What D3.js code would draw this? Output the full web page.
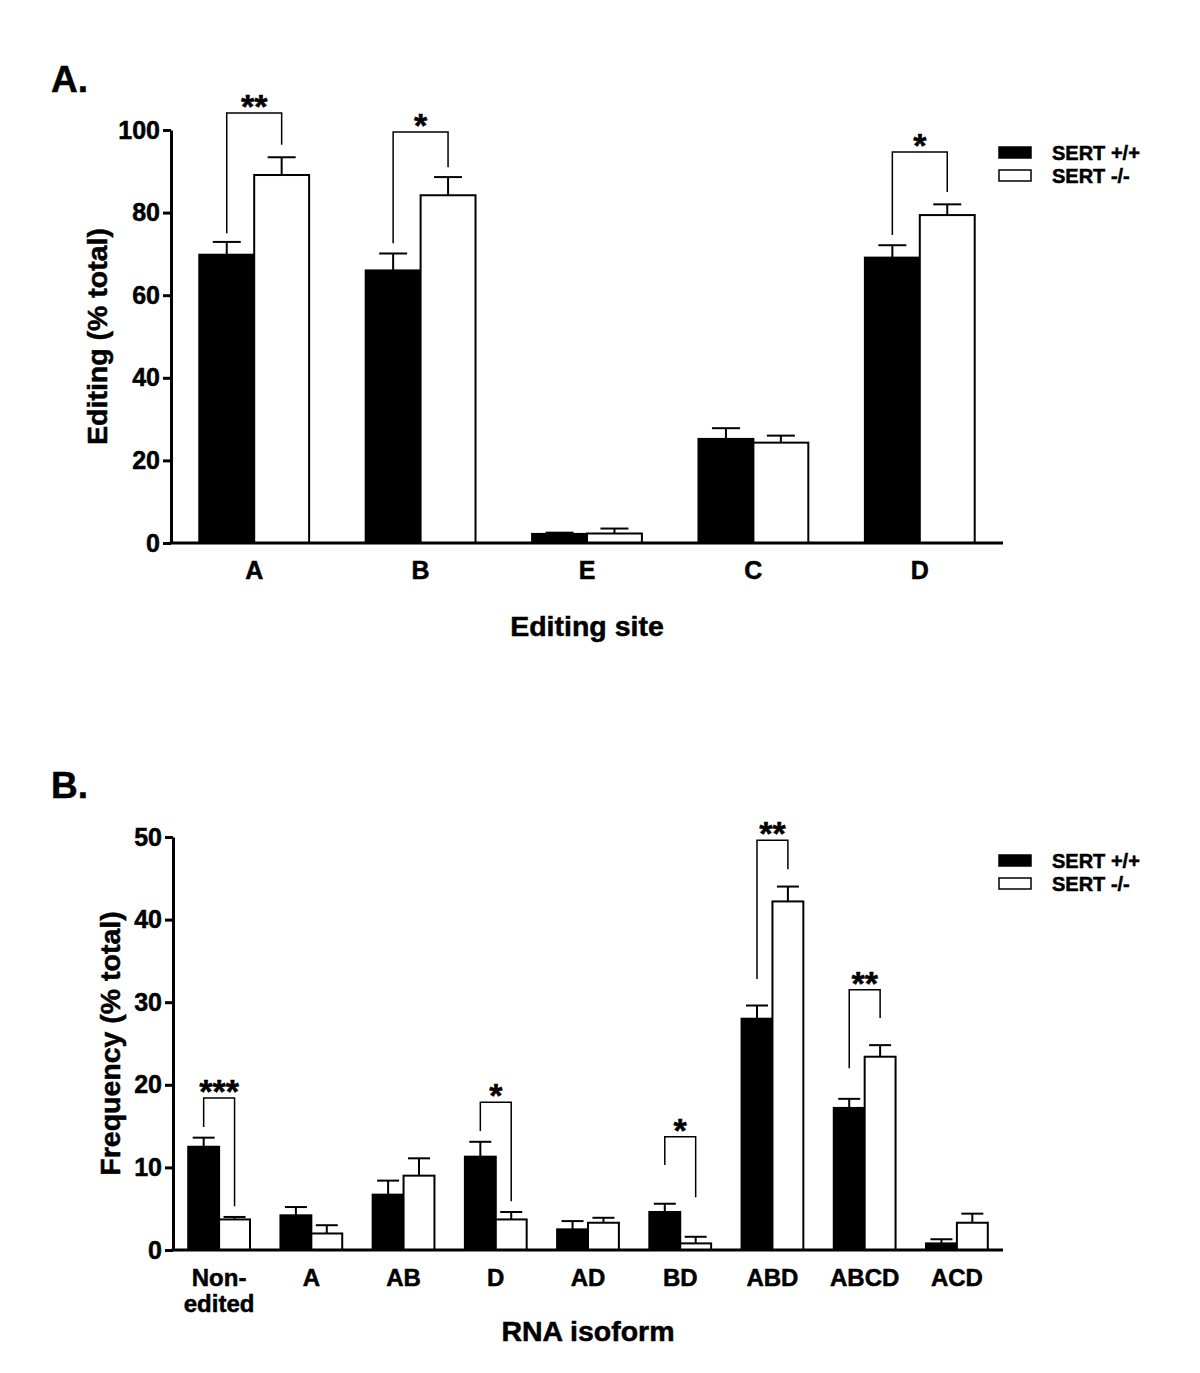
<!DOCTYPE html>
<html>
<head>
<meta charset="utf-8">
<script src="https://cdn.jsdelivr.net/npm/d3@7"></script>
<style>
  body { margin: 0; background: #fff; }
  svg { font-family: "Liberation Sans", Arial, sans-serif; font-weight: bold; }
  svg text { stroke: #000; stroke-width: 0.5px; }
</style>
</head>
<body>
<svg id="chart" width="1200" height="1373"></svg>
<script>
// Panel A data
const sitesA = ["A", "B", "E", "C", "D"];
const wildA = [69.8, 66.0, 2.2, 25.2, 69.1];
const wildErrA = [72.9, 70.1, 2.5, 27.8, 72.1];
const knockA = [89.1, 84.2, 2.3, 24.3, 79.4];
const knockErrA = [93.4, 88.6, 3.5, 26.0, 82.0];
const ticksA = [0, 20, 40, 60, 80, 100];
// [category, bracket top, left leg end, right leg end, label]
const bracketsA = [
  ["A", 104.1, 75.0, 96.4, "**"],
  ["B", 99.5, 72.6, 91.0, "*"],
  ["D", 94.7, 74.6, 85.0, "*"]
];

// Panel B data
const isoformsB = ["Non-\nedited", "A", "AB", "D", "AD", "BD", "ABD", "ABCD", "ACD"];
const wildB = [12.5, 4.2, 6.7, 11.3, 2.5, 4.6, 28.0, 17.2, 0.8];
const wildErrB = [13.6, 5.2, 8.4, 13.1, 3.5, 5.6, 29.6, 18.3, 1.3];
const knockB = [3.7, 2.0, 9.0, 3.7, 3.3, 0.8, 42.2, 23.4, 3.3];
const knockErrB = [4.0, 3.0, 11.1, 4.6, 3.9, 1.6, 44.0, 24.8, 4.4];
const ticksB = [0, 10, 20, 30, 40, 50];
const bracketsB = [
  ["Non-\nedited", 18.4, 14.9, 5.3, "***"],
  ["D", 17.9, 14.4, 5.9, "*"],
  ["BD", 13.7, 10.3, 6.4, "*"],
  ["ABD", 49.6, 32.8, 46.1, "**"],
  ["ABCD", 31.5, 22.0, 28.1, "**"]
];

const legendLabels = ["SERT +/+", "SERT -/-"];

const svg = d3.select("#chart");

function drawPanel(cfg) {
  const g = svg.append("g");

  const xScale = d3.scaleBand()
    .domain(cfg.cats)
    .range([cfg.x0, cfg.x1])
    .paddingInner(cfg.pad)
    .paddingOuter(cfg.pad / 2);
  const yScale = d3.scaleLinear().domain(cfg.yDomain).range([cfg.yBottom, cfg.yTop]);
  const half = xScale.bandwidth() / 2;

  const series = [
    { vals: cfg.wild, errs: cfg.wildErr, fill: "#000", off: 0 },
    { vals: cfg.knock, errs: cfg.knockErr, fill: "#fff", off: half }
  ];

  // error bars first so the bar outline sits on top
  series.forEach((s) => {
    const eb = g.append("g");
    cfg.cats.forEach((c, i) => {
      const cx = xScale(c) + s.off + half / 2;
      eb.append("line")
        .attr("x1", cx).attr("x2", cx)
        .attr("y1", yScale(s.vals[i])).attr("y2", yScale(s.errs[i]))
        .attr("stroke", "#000").attr("stroke-width", 2);
      eb.append("line")
        .attr("x1", cx - cfg.cap / 2).attr("x2", cx + cfg.cap / 2)
        .attr("y1", yScale(s.errs[i])).attr("y2", yScale(s.errs[i]))
        .attr("stroke", "#000").attr("stroke-width", 2);
    });
  });

  series.forEach((s) => {
    g.append("g")
      .selectAll("rect")
      .data(cfg.cats)
      .join("rect")
      .attr("x", (c) => xScale(c) + s.off)
      .attr("width", half)
      .attr("y", (c, i) => yScale(s.vals[i]))
      .attr("height", (c, i) => yScale(0) - yScale(s.vals[i]))
      .attr("fill", s.fill)
      .attr("stroke", "#000")
      .attr("stroke-width", 2);
  });

  // significance brackets
  cfg.brackets.forEach(([c, top, lEnd, rEnd, label]) => {
    const lx = xScale(c) + half / 2;
    const rx = xScale(c) + half + half / 2;
    g.append("path")
      .attr("d", `M${lx},${yScale(lEnd)} V${yScale(top)} H${rx} V${yScale(rEnd)}`)
      .attr("fill", "none")
      .attr("stroke", "#000")
      .attr("stroke-width", 1.5);
    g.append("text")
      .attr("x", (lx + rx) / 2)
      .attr("y", yScale(top) + 5)
      .attr("text-anchor", "middle")
      .style("font-size", "34px")
      .text(label);
  });

  // axes
  const yAxis = d3.axisLeft(yScale).tickValues(cfg.ticks).tickSize(8).tickSizeOuter(0).tickPadding(3);
  g.append("g")
    .attr("transform", `translate(${cfg.x0},0)`)
    .call(yAxis)
    .call((a) => a.select(".domain").attr("stroke-width", 3))
    .call((a) => a.selectAll(".tick line").attr("stroke-width", 3))
    .call((a) => a.selectAll(".tick text")
      .attr("fill", "#000")
      .style("font-size", "25px")
      .style("font-family", "'Liberation Sans', Arial, sans-serif")
      .style("font-weight", "bold"));

  const xAxis = d3.axisBottom(xScale).tickSize(0).tickSizeOuter(0).tickFormat("");
  g.append("g")
    .attr("transform", `translate(0,${cfg.yBottom})`)
    .call(xAxis)
    .call((a) => a.select(".domain").attr("stroke-width", 3).attr("d", `M${cfg.x0 - 1.5},0H${cfg.x1}`));

  // category labels; two-line labels become separate texts
  cfg.cats.forEach((c) => {
    c.split("\n").forEach((line, k) => {
      g.append("text")
        .attr("x", xScale(c) + half)
        .attr("y", cfg.yBottom + cfg.tickLabelDy + k * 26)
        .attr("text-anchor", "middle")
        .style("font-size", cfg.tickFont)
        .text(line);
    });
  });

  // titles
  g.append("text")
    .attr("x", (cfg.x0 + cfg.x1) / 2)
    .attr("y", cfg.xTitleY)
    .attr("text-anchor", "middle")
    .style("font-size", "28.5px")
    .text(cfg.xTitle);

  g.append("text")
    .attr("transform", `translate(${cfg.yTitleX},${(cfg.yTop + cfg.yBottom) / 2}) rotate(-90)`)
    .attr("text-anchor", "middle")
    .style("font-size", "28.5px")
    .text(cfg.yTitle);

  g.append("text")
    .attr("x", cfg.panelX)
    .attr("y", cfg.panelY)
    .style("font-size", "37px")
    .text(cfg.panel);

  // legend
  const leg = g.append("g").attr("transform", `translate(999,${cfg.legendY})`);
  legendLabels.forEach((lab, i) => {
    leg.append("rect")
      .attr("x", 0).attr("y", i * 23)
      .attr("width", 32).attr("height", 11)
      .attr("fill", i === 0 ? "#000" : "#fff")
      .attr("stroke", "#000").attr("stroke-width", 1.5);
    leg.append("text")
      .attr("x", 53).attr("y", i * 23 + 13)
      .style("font-size", "20px")
      .text(lab);
  });
}

drawPanel({
  cats: sitesA, wild: wildA, wildErr: wildErrA, knock: knockA, knockErr: knockErrA,
  ticks: ticksA, brackets: bracketsA, yDomain: [0, 100],
  x0: 171, x1: 1003, yTop: 130, yBottom: 543, pad: 0.34, cap: 28,
  tickLabelDy: 36, tickFont: "25px",
  xTitle: "Editing site", xTitleY: 636, yTitle: "Editing (% total)", yTitleX: 107,
  panel: "A.", panelX: 51, panelY: 92, legendY: 147
});

drawPanel({
  cats: isoformsB, wild: wildB, wildErr: wildErrB, knock: knockB, knockErr: knockErrB,
  ticks: ticksB, brackets: bracketsB, yDomain: [0, 50],
  x0: 173, x1: 1003, yTop: 837, yBottom: 1250, pad: 0.33, cap: 22,
  tickLabelDy: 36, tickFont: "24px",
  xTitle: "RNA isoform", xTitleY: 1341, yTitle: "Frequency (% total)", yTitleX: 120,
  panel: "B.", panelX: 51, panelY: 798, legendY: 855
});
</script>
</body>
</html>
